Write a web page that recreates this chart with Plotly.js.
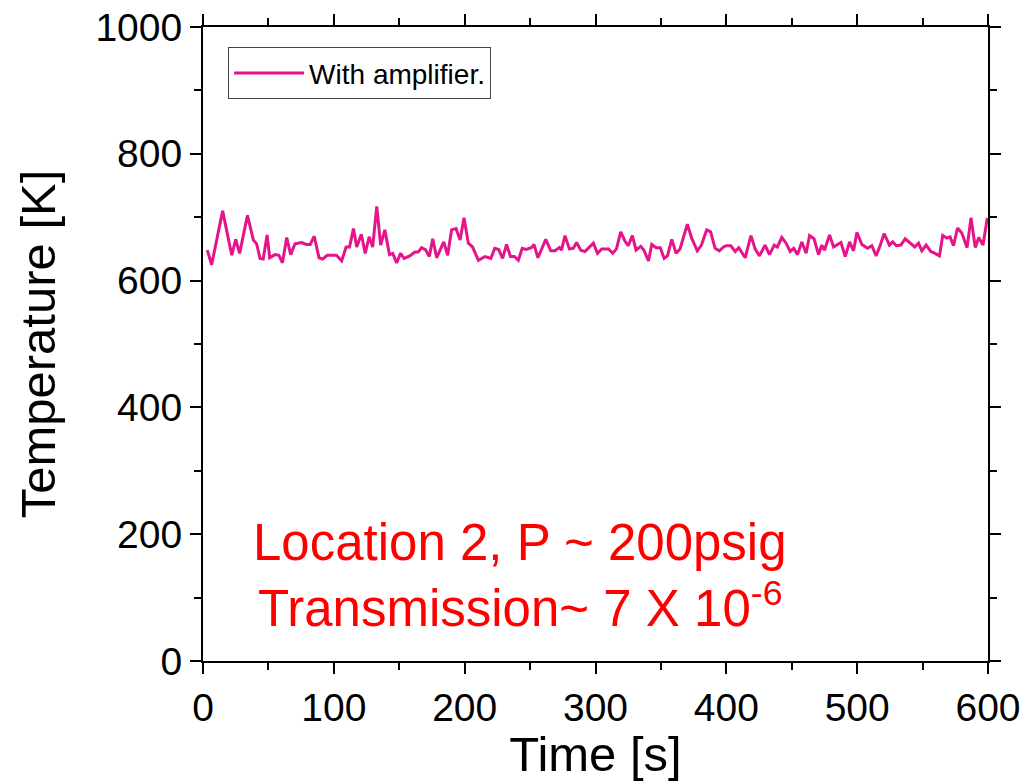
<!DOCTYPE html>
<html>
<head>
<meta charset="utf-8">
<script src="https://cdn.plot.ly/plotly-3.0.1.min.js"></script>
<style>
  html, body { margin: 0; padding: 0; background: #fff; }
  #chart { width: 1028px; height: 781px; }
</style>
</head>
<body>
<div id="chart"></div>
<script>
const seriesName = "With amplifier.";
const timeS = [3.3,6.6,15,22,25,28,34,38.5,41,43.6,46,49,51,55,58,60.7,64,67,70.3,75.4,79,82,85,88.7,91.5,95,98.4,
  102,106,109.4,112,115,117.5,121,124,127,129.7,132.8,135.8,139,142.5,145,148,151,153.7,158,162,164.5,167,170,173,175.6,178.6,184,187,190,193.4,196.5,199.5,
  202.8,206,210.5,215.6,220,223,226,229,232,235,238,241,244,247,251,253,256,262,265.8,269,272.4,274,276.7,280,283,285.6,288.7,292,295,298.4,
  301.5,304.8,310,313.2,316,319.3,322.6,325,328.2,331,334.6,337,340.5,343,346.3,349.5,352.5,355,358.3,361.6,364.6,370.2,373.5,377.8,381,385,388,391.4,394.7,397.8,
  400,403.4,406.8,409.5,414.4,418.8,422,425.3,429.6,433,436.6,439,442.4,445.7,448.8,451.5,454.4,457.7,461,463.6,467,470.5,473,475,478.9,482,485,487.6,490.9,494.2,
  497.2,499.8,503.6,508,511.2,514.5,517.5,520.6,524.7,527.2,530,533.4,536.7,540.5,544,546.9,549.4,552.7,556.3,559.5,562.9,565.4,568.5,571,573.6,576.7,580,584,587,590.3,592.9,596.2,599.5];
const tempK = [648,625,710,640,665,643,703,664,658,635,634,672,636,641,640,628,668,641,658,660,657,657,670,636,634,640,640,
  640,631,653,653,682,653,673,643,669,653,717,656,680,641,643,628,643,635,639,645,645,652,649,638,666,636,661,640,680,682,664,699,
  659,653,632,638,635,651,649,635,657,638,638,632,651,649,652,657,636,665,647,647,652,648,671,650,651,660,648,646,652,659,
  643,650,650,643,650,677,662,655,671,648,654,648,631,657,652,652,635,639,665,643,650,689,667,647,656,680,677,651,647,653,
  655,655,646,652,636,671,650,639,656,641,656,653,668,659,646,651,641,661,643,671,666,641,656,648,672,653,657,660,638,661,
  647,676,657,651,655,639,655,674,656,661,655,656,666,659,653,659,647,656,646,643,639,671,667,669,655,683,675,652,699,652,668,656,699];
const xTickVals = [0,100,200,300,400,500,600];
const yTickVals = [0,200,400,600,800,1000];
const noteLine1 = "Location 2, P ~ 200psig";
const noteLine2 = "Transmission~ 7 X 10<sup>-6</sup>";

const FONT = "Arial, 'Liberation Sans', Helvetica, sans-serif";
const lineColor = "#e6138a";

const trace = {
  x: timeS, y: tempK, type: "scatter", mode: "lines", name: seriesName,
  line: { color: lineColor, width: 3 }
};

const axisCommon = {
  showgrid: false, zeroline: false, showline: true, linecolor: "#000", linewidth: 2,
  mirror: "allticks", ticks: "outside", ticklen: 11, tickwidth: 2, tickcolor: "#000",
  tickfont: { family: FONT, size: 39, color: "#000" }
};

const layout = {
  width: 1028, height: 781,
  margin: { l: 203, r: 40, t: 27, b: 120 },
  paper_bgcolor: "#fff", plot_bgcolor: "#fff",
  font: { family: FONT, color: "#000" },
  showlegend: true,
  legend: {
    x: 0.032, y: 0.968, xanchor: "left", yanchor: "top",
    bgcolor: "#fff", bordercolor: "#444", borderwidth: 1,
    itemwidth: 70, tracegroupgap: 0,
    font: { family: FONT, size: 28, color: "#000" }
  },
  xaxis: Object.assign({}, axisCommon, {
    range: [0, 600], tickvals: xTickVals, ticktext: xTickVals.map(String),
    minor: { dtick: 50, tick0: 0, ticks: "outside", ticklen: 7, tickwidth: 2, tickcolor: "#000" },
    title: { text: "Time [s]", font: { family: FONT, size: 49, color: "#000" }, standoff: 2 }
  }),
  yaxis: Object.assign({}, axisCommon, {
    range: [0, 1000], tickvals: yTickVals, ticktext: yTickVals.map(String),
    minor: { dtick: 100, tick0: 0, ticks: "outside", ticklen: 7, tickwidth: 2, tickcolor: "#000" },
    title: { text: "Temperature [K]", font: { family: FONT, size: 49, color: "#000" }, standoff: 24 }
  }),
  annotations: [
    { xref: "paper", yref: "paper", x: 0.404, y: 0.187, text: noteLine1, showarrow: false,
      font: { family: FONT, size: 51, color: "#ff0000" }, xanchor: "center", yanchor: "middle" },
    { xref: "paper", yref: "paper", x: 0.404, y: 0.088, text: noteLine2, showarrow: false,
      font: { family: FONT, size: 51, color: "#ff0000" }, xanchor: "center", yanchor: "middle" }
  ]
};

Plotly.newPlot("chart", [trace], layout, { displayModeBar: false, staticPlot: true });
</script>
</body>
</html>
